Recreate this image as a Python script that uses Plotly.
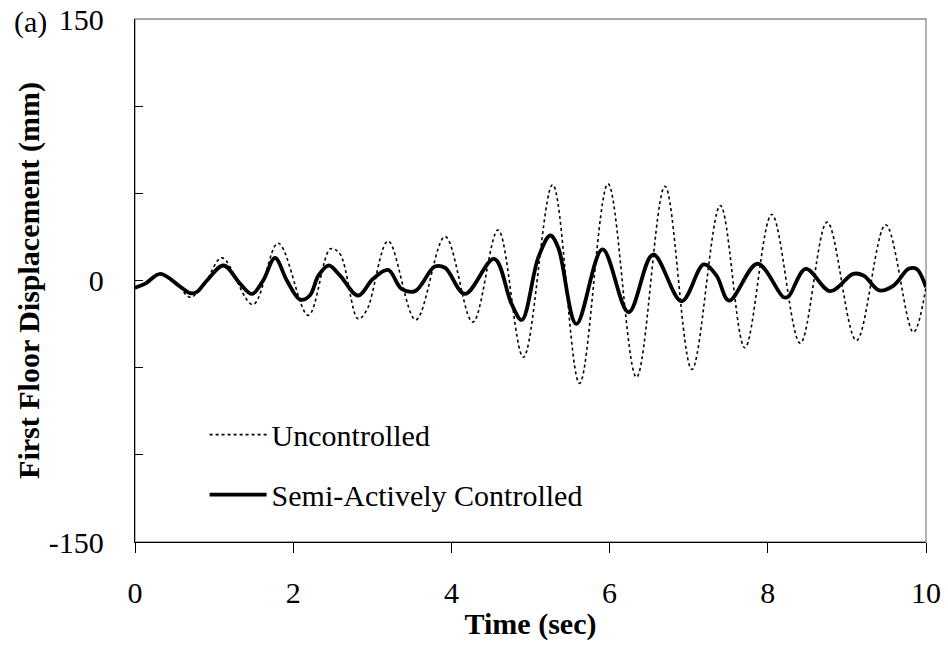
import plotly.graph_objects as go

# Time histories of first floor displacement (sec, mm)
t_unc = [0.00, 0.12, 0.32, 0.55, 0.70, 0.90, 1.10, 1.49, 1.81, 2.19, 2.47, 2.59,
         2.82, 2.93, 3.20, 3.55, 3.92, 4.27, 4.59, 4.91, 5.28, 5.62, 5.98, 6.34,
         6.70, 7.04, 7.40, 7.71, 8.05, 8.41, 8.75, 9.12, 9.49, 9.84, 10.00]
d_unc = [-4.5, -2.0, 4.0, -3.0, -9.7, 0.0, 13.0, -13.8, 21.4, -20.0, 18.2, 15.3,
         -22.0, -17.0, 22.6, -22.6, 25.2, -23.9, 29.0, -44.0, 55.0, -59.0, 55.5, -55.5,
         54.0, -51.0, 43.0, -38.6, 37.9, -36.0, 33.5, -34.4, 32.0, -29.7, -3.8]

t_semi = [0.00, 0.13, 0.32, 0.57, 0.70, 0.78, 0.91, 1.12, 1.33, 1.48, 1.62, 1.77,
          1.92, 2.09, 2.21, 2.32, 2.45, 2.59, 2.82, 3.01, 3.20, 3.37, 3.54, 3.79,
          3.92, 4.17, 4.54, 4.76, 4.89, 5.10, 5.25, 5.35, 5.58, 5.91, 6.24, 6.55,
          6.91, 7.19, 7.35, 7.51, 7.87, 8.20, 8.26, 8.48, 8.79, 9.08, 9.21, 9.41,
          9.59, 9.78, 9.88, 10.00]
d_semi = [-4.2, -1.8, 3.8, -3.5, -7.3, -6.7, 0.0, 8.6, -1.9, -7.7, 0.0, 13.0,
          0.0, -11.0, -8.6, 2.9, 8.6, 2.9, -8.6, 1.0, 6.1, -4.8, -6.1, 8.0,
          7.3, -7.7, 12.4, -13.4, -22.6, 13.4, 25.8, 19.0, -24.9, 17.8, -18.2, 14.9,
          -11.9, 9.2, 2.9, -11.5, 9.6, -9.6, -9.2, 6.7, -6.1, 3.8, 2.9, -5.7,
          -2.9, 6.7, 6.7, -3.8]

x_ticks = [0, 2, 4, 6, 8, 10]
y_ticks = [-150, -100, -50, 0, 50, 100, 150]
y_ticktext = ["-150", "", "", "0", "", "", "150"]

FONT = "Liberation Serif"

fig = go.Figure()
fig.add_trace(go.Scatter(
    x=t_unc, y=d_unc, mode="lines", name="Uncontrolled", legendgroup="a",
    line=dict(color="black", width=1.6, dash="3px,3px", shape="spline", smoothing=1.0),
))
fig.add_trace(go.Scatter(
    x=t_semi, y=d_semi, mode="lines", name="Semi-Actively Controlled", legendgroup="b",
    line=dict(color="black", width=3.8, shape="spline", smoothing=1.0),
))

fig.update_layout(
    width=948, height=651,
    margin=dict(l=135, r=22, t=19, b=109),
    paper_bgcolor="white", plot_bgcolor="white",
    font=dict(family=FONT, size=30, color="black"),
    showlegend=True,
    legend=dict(
        x=0.088, y=0.255, xanchor="left", yanchor="top",
        bgcolor="rgba(0,0,0,0)", font=dict(family=FONT, size=30),
        tracegroupgap=18, traceorder="grouped", itemwidth=57,
    ),
    xaxis=dict(
        range=[0, 10], tickvals=x_ticks, ticks="outside", ticklen=10, tickwidth=1.3,
        tickcolor="black", showline=True, linecolor="black", linewidth=1.3,
        showgrid=False, zeroline=False, ticklabelstandoff=14, automargin=False,
        title=dict(text="Time (sec)", font=dict(family=FONT, size=30, weight="bold"), standoff=4),
    ),
    xaxis2=dict(
        range=[0, 10], overlaying="x", anchor="y", side="bottom", tickvals=x_ticks,
        ticks="inside", ticklen=10, tickwidth=1.3, tickcolor="black",
        showticklabels=False, showline=False, showgrid=False, zeroline=False,
    ),
    yaxis=dict(
        range=[-150, 150], tickvals=y_ticks, ticktext=y_ticktext, ticks="inside",
        ticklen=8, tickwidth=1.3, tickcolor="black", showline=True, linecolor="black",
        linewidth=1.3, showgrid=False, zeroline=False, ticklabelstandoff=24,
        automargin=False,
        title=dict(text="First Floor Displacement (mm)",
                   font=dict(family=FONT, size=30, weight="bold"), standoff=0),
    ),
    shapes=[dict(type="rect", xref="paper", yref="paper", x0=0, x1=1, y0=0, y1=1,
                 line=dict(color="#8c8c8c", width=1.3), layer="below")],
    annotations=[dict(text="(a)", xref="paper", yref="paper", x=-0.1555, y=0.994,
                      xanchor="left", yanchor="middle", showarrow=False,
                      font=dict(family=FONT, size=30))],
)

fig.write_html("out.html")
